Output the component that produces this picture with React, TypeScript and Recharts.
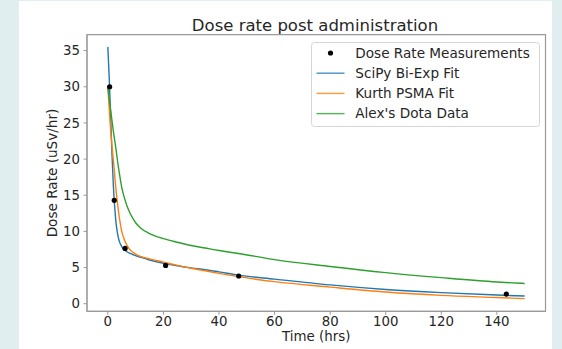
import { ComposedChart, Line, Scatter, XAxis, YAxis, Legend, ReferenceArea, Label } from 'recharts';

const fitTimes = [0, 0.5, 1, 1.5, 2, 2.5, 3, 3.5, 4, 5, 6, 7, 8, 10, 12, 15, 20, 25, 30, 35, 40, 47, 60, 80, 100, 120, 140, 150];
const scipyFit = [35.5, 31.2, 26.0, 20.6, 16.2, 13.2, 11.0, 9.7, 8.8, 7.9, 7.45, 7.15, 6.95, 6.65, 6.4, 6.05, 5.6, 5.25, 4.95, 4.7, 4.4, 3.95, 3.4, 2.6, 1.97, 1.53, 1.2, 1.06];
const kurthFit = [30.0, 27.0, 24.0, 21.8, 19.8, 17.6, 15.5, 13.8, 12.3, 10.0, 8.8, 8.0, 7.45, 6.85, 6.5, 6.2, 5.75, 5.3, 4.9, 4.55, 4.2, 3.75, 3.05, 2.3, 1.62, 1.15, 0.85, 0.7];
const dotaFit = [30.0, 28.3, 26.8, 25.3, 23.8, 22.5, 21.2, 19.7, 18.4, 16.1, 14.6, 13.4, 12.5, 11.2, 10.4, 9.7, 9.0, 8.5, 8.05, 7.7, 7.35, 6.95, 6.1, 5.15, 4.3, 3.6, 3.0, 2.8];

const measuredTimes = [0.65, 2.3, 6.2, 20.8, 47.1, 143.4];
const measuredRates = [30.0, 14.3, 7.65, 5.3, 3.83, 1.33];

const xTicks = [0, 20, 40, 60, 80, 100, 120, 140];
const yTicks = [0, 5, 10, 15, 20, 25, 30, 35];

const legendItems = [
  { name: 'Dose Rate Measurements', color: '#000000', kind: 'dot' },
  { name: 'SciPy Bi-Exp Fit', color: '#1f77b4', kind: 'line' },
  { name: 'Kurth PSMA Fit', color: '#ff7f0e', kind: 'line' },
  { name: "Alex's Dota Data", color: '#2ca02c', kind: 'line' },
];

const toPoints = (ts: number[], vs: number[]) => ts.map((t, i) => ({ t, v: vs[i] }));

const spine = '#999999';
const textColor = '#262626';

function LegendBox() {
  return (
    <svg width={229} height={85} style={{ display: 'block' }}>
      <rect x={0.5} y={0.5} width={228} height={84} rx={3} fill="#ffffff" fillOpacity={0.8} stroke="#d6d6d6" />
      {legendItems.map((item, i) => {
        const base = 15.6 + i * 20.2;
        return (
          <g key={item.name}>
            {item.kind === 'dot' ? (
              <circle cx={19.5} cy={base - 4.6} r={2.6} fill={item.color} />
            ) : (
              <line x1={5.5} x2={33.5} y1={base - 4.6} y2={base - 4.6} stroke={item.color} strokeWidth={1.4} strokeOpacity={0.8} />
            )}
            <text x={44.3} y={base} fontSize={13.6} fill={textColor}>
              {item.name}
            </text>
          </g>
        );
      })}
    </svg>
  );
}

export default function App() {
  return (
    <div
      style={{
        position: 'fixed',
        left: 0,
        top: 0,
        width: 562,
        height: 349,
        background: '#e0eef0',
        fontFamily: '"DejaVu Sans", sans-serif',
        overflow: 'hidden',
      }}
    >
      <div style={{ position: 'absolute', left: 19, top: 1, width: 533, height: 348, background: '#ffffff' }} />
      <svg width={562} height={349} style={{ position: 'absolute', left: 0, top: 0 }}>
        <text x={315} y={30.7} textAnchor="middle" fontSize={16.5} fill={textColor}>
          Dose rate post administration
        </text>
      </svg>
      <div style={{ position: 'absolute', left: 0, top: 0 }}>
        <ComposedChart width={562} height={349} margin={{ top: 34.7, right: 16.5, bottom: 0, left: 0 }}>
          <XAxis
            type="number"
            dataKey="t"
            domain={[-7.5, 157.5]}
            allowDataOverflow
            ticks={xTicks}
            tickSize={3.5}
            tickMargin={2}
            height={37.7}
            stroke={spine}
            tick={{ fill: textColor, fontSize: 13.3 }}
          >
            <Label
              content={({ viewBox }: any) => (
                <text x={viewBox.x + viewBox.width / 2} y={viewBox.y + 29.4} textAnchor="middle" fontSize={13.4} fill={textColor}>
                  Time (hrs)
                </text>
              )}
            />
          </XAxis>
          <YAxis
            type="number"
            domain={[-1.05, 37.2]}
            allowDataOverflow
            ticks={yTicks}
            tickSize={3.5}
            tickMargin={3.5}
            width={87}
            stroke={spine}
            tick={{ fill: textColor, fontSize: 13.3 }}
          >
            <Label
              content={({ viewBox }: any) => {
                const x = viewBox.x + 57.4;
                const y = viewBox.y + viewBox.height / 2;
                return (
                  <text x={x} y={y} transform={`rotate(-90 ${x} ${y})`} textAnchor="middle" fontSize={13.6} fill={textColor}>
                    Dose Rate (uSv/hr)
                  </text>
                );
              }}
            />
          </YAxis>
          <ReferenceArea x1={-7.5} x2={157.5} y1={-1.05} y2={37.2} fill="none" stroke={spine} strokeWidth={1.2} ifOverflow="visible" />
          <Line data={toPoints(fitTimes, scipyFit)} dataKey="v" type="monotone" stroke="#1f77b4" strokeWidth={1.4} dot={false} activeDot={false} isAnimationActive={false} />
          <Line data={toPoints(fitTimes, kurthFit)} dataKey="v" type="monotone" stroke="#ff7f0e" strokeWidth={1.4} dot={false} activeDot={false} isAnimationActive={false} />
          <Line data={toPoints(fitTimes, dotaFit)} dataKey="v" type="monotone" stroke="#2ca02c" strokeWidth={1.4} dot={false} activeDot={false} isAnimationActive={false} />
          <Scatter
            data={toPoints(measuredTimes, measuredRates)}
            dataKey="v"
            fill="#000000"
            isAnimationActive={false}
            shape={(p: any) => <circle cx={p.cx} cy={p.cy} r={2.6} fill="#000000" />}
          />
          <Legend
            layout="vertical"
            align="center"
            verticalAlign="middle"
            content={() => <LegendBox />}
            wrapperStyle={{ position: 'absolute', left: 310.5, top: 41.7, width: 229, height: 85 }}
          />
        </ComposedChart>
      </div>
    </div>
  );
}
